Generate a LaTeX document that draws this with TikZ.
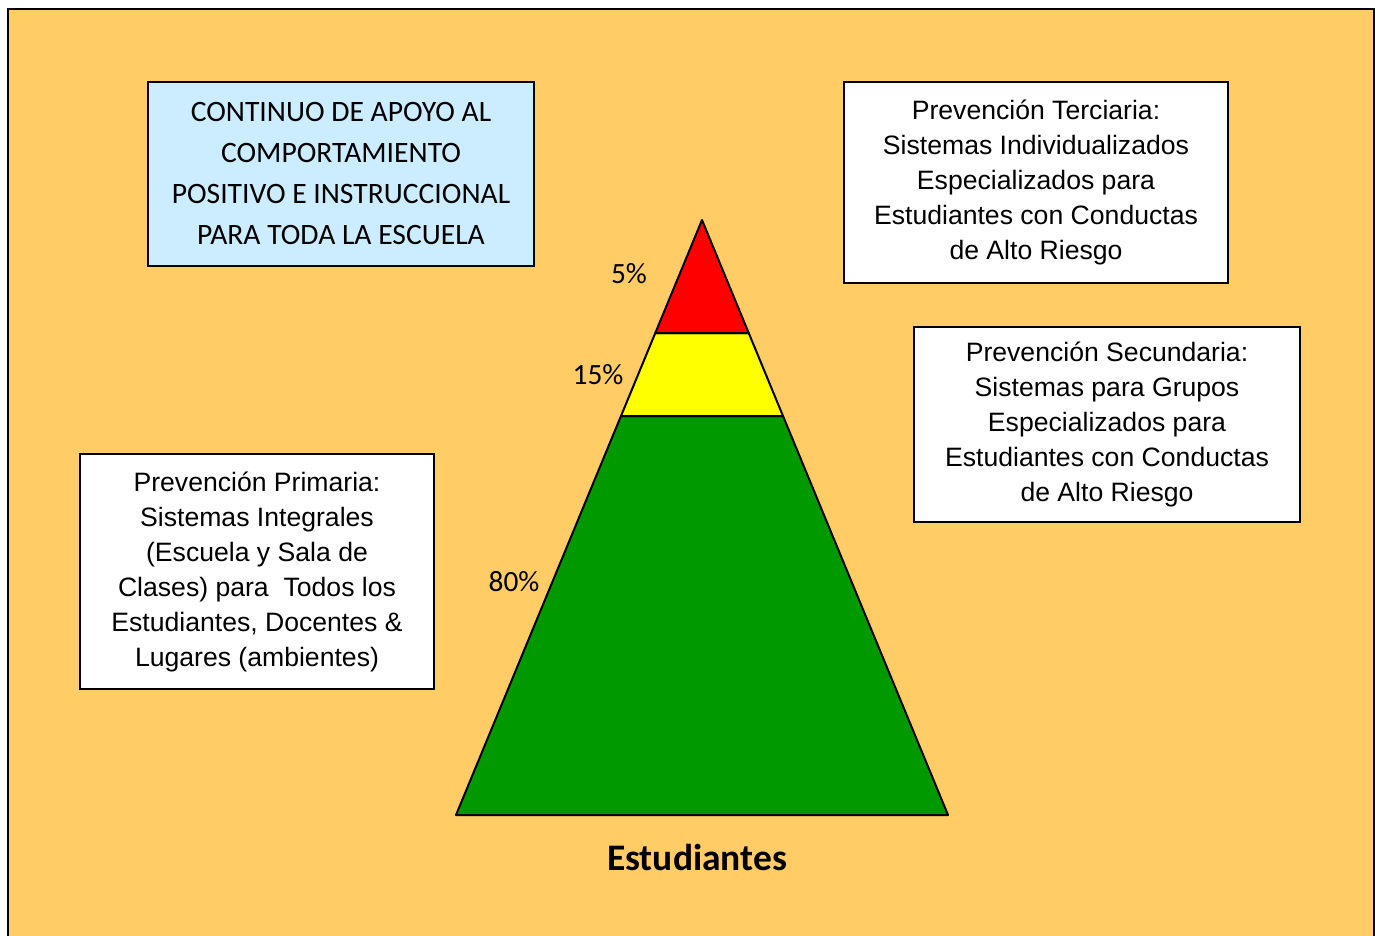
\documentclass[tikz,border=0pt]{standalone}
\usepackage{fontspec}
\setmainfont{Liberation Sans}
\newfontfamily\calib{Carlito}
\definecolor{bg}{RGB}{255,204,102}
\definecolor{lblue}{RGB}{204,236,255}
\definecolor{pred}{RGB}{255,0,0}
\definecolor{pyellow}{RGB}{255,255,0}
\definecolor{pgreen}{RGB}{0,153,0}
\begin{document}
\begin{tikzpicture}[x=1pt,y=-1pt,
  infobox/.style={draw=black, line width=2, fill=white, align=center, inner sep=0pt,
    font=\fontsize{26.6}{35}\selectfont},
  titlebox/.style={infobox, fill=lblue, font=\calib\fontsize{29.6}{41}\selectfont},
  pct/.style={inner sep=0pt, font=\calib\fontsize{29.4}{32}\selectfont},
  tier/.style={draw=black, line width=2, line join=round}]
\clip (0,0) rectangle (1375,936);
\fill[white] (0,0) rectangle (1375,936);
\draw[line width=2.5, fill=bg] (8,9) rectangle (1374,960);

% title
\node[titlebox, minimum width=386, minimum height=184] (title) at (341,174)
  {CONTINUO DE APOYO AL\\COMPORTAMIENTO\\POSITIVO E INSTRUCCIONAL\\PARA TODA LA ESCUELA};

% info boxes
\node[infobox, minimum width=384, minimum height=201] (terc) at (1036,182.5)
  {Prevención Terciaria:\\Sistemas Individualizados\\Especializados para\\Estudiantes con Conductas\\de Alto Riesgo};
\node[infobox, minimum width=386, minimum height=195] (sec) at (1107,424.5)
  {Prevención Secundaria:\\Sistemas para Grupos\\Especializados para\\Estudiantes con Conductas\\de Alto Riesgo};
\node[infobox, minimum width=354, minimum height=235] (prim) at (257,571.5)
  {Prevención Primaria:\\Sistemas Integrales\\(Escuela y Sala de\\Clases) para\ \ Todos los\\Estudiantes, Docentes \&\\Lugares (ambientes)};

% pyramid
\coordinate (apex) at (702,220);
\coordinate (rl) at (655.3,333);
\coordinate (rr) at (748.7,333);
\coordinate (yl) at (621,416);
\coordinate (yr) at (783,416);
\coordinate (bl) at (456,815);
\coordinate (br) at (948,815);
\draw[tier, fill=pgreen] (yl) -- (yr) -- (br) -- (bl) -- cycle;
\draw[tier, fill=pyellow] (rl) -- (rr) -- (yr) -- (yl) -- cycle;
\draw[tier, fill=pred] (apex) -- (rr) -- (rl) -- cycle;

\node[pct] (p5) at (629,274) {5\%};
\node[pct] (p15) at (598,375) {15\%};
\node[pct] (p80) at (514,582) {80\%};

\node[inner sep=0pt, font=\calib\bfseries\fontsize{37.5}{40}\selectfont] (stud) at (697,857) {Estudiantes};
\end{tikzpicture}
\end{document}
